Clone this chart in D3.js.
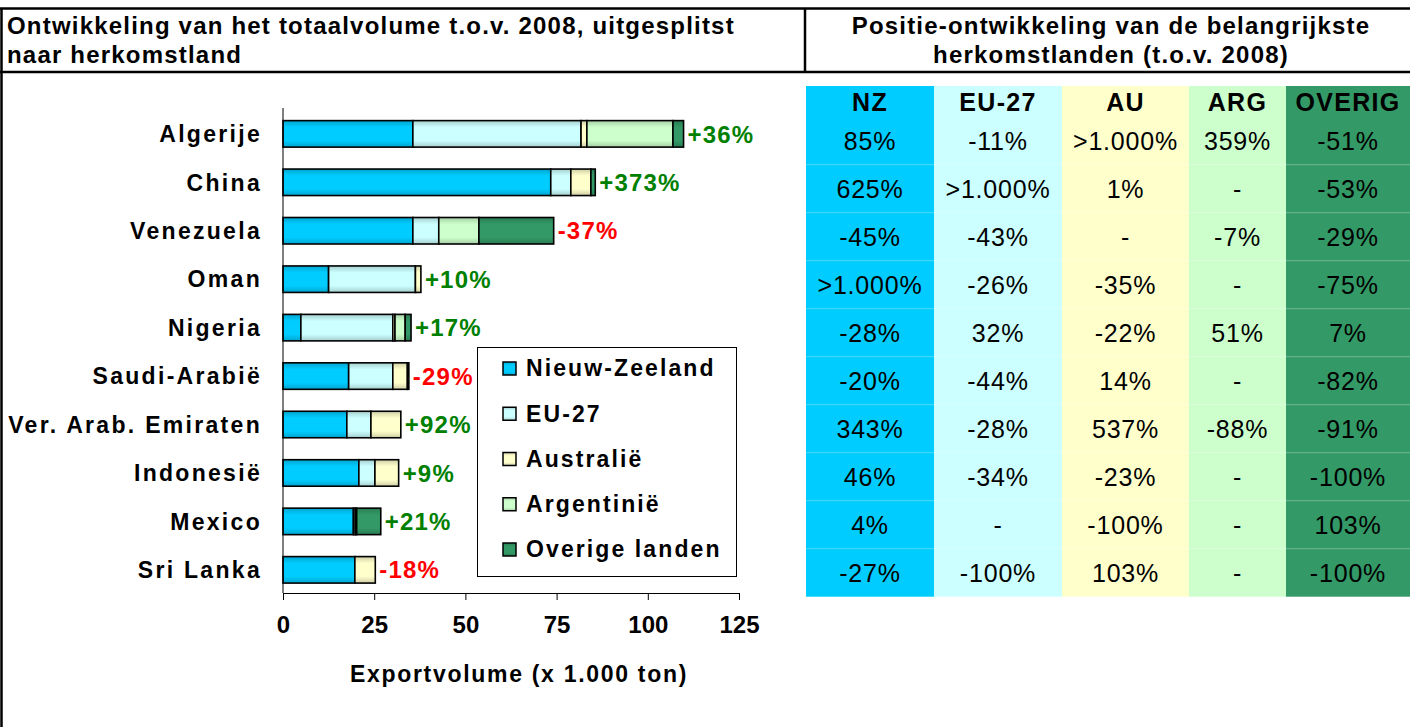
<!DOCTYPE html>
<html>
<head>
<meta charset="utf-8">
<script src="https://cdn.jsdelivr.net/npm/d3@7"></script>
<style>
  body { margin: 0; background: #fff; }
  svg text { font-family: "Liberation Sans", Arial, sans-serif; }
</style>
</head>
<body>
<div id="chart"></div>
<script>
const categories = ["Algerije", "China", "Venezuela", "Oman", "Nigeria", "Saudi-Arabië",
  "Ver. Arab. Emiraten", "Indonesië", "Mexico", "Sri Lanka"];

// exportvolume per herkomstland (x 1.000 ton)
const nieuwZeeland = [35.6, 73.4, 35.6, 12.5, 4.9, 18.0, 17.5, 20.8, 19.3, 19.7];
const eu27 = [46.1, 5.5, 7.1, 23.8, 25.2, 12.1, 6.6, 4.4, 0.5, 0];
const australie = [1.6, 5.5, 0, 1.5, 0.6, 4.0, 8.2, 6.5, 0.4, 5.6];
const argentinie = [23.6, 0, 11.0, 0, 2.8, 0, 0, 0, 0, 0];
const overige = [2.9, 1.2, 20.5, 0, 1.6, 0.4, 0, 0, 6.6, 0];

const totaalLabels = ["+36%", "+373%", "-37%", "+10%", "+17%", "-29%", "+92%", "+9%", "+21%", "-18%"];

const seriesNames = ["Nieuw-Zeeland", "EU-27", "Australië", "Argentinië", "Overige landen"];
const seriesColors = ["#00CCFF", "#CCFFFF", "#FFFFCC", "#CCFFCC", "#339966"];
const xTicks = [0, 25, 50, 75, 100, 125];

const tableHeaders = ["NZ", "EU-27", "AU", "ARG", "OVERIG"];
const tableNZ = ["85%", "625%", "-45%", ">1.000%", "-28%", "-20%", "343%", "46%", "4%", "-27%"];
const tableEU = ["-11%", ">1.000%", "-43%", "-26%", "32%", "-44%", "-28%", "-34%", "-", "-100%"];
const tableAU = [">1.000%", "1%", "-", "-35%", "-22%", "14%", "537%", "-23%", "-100%", "103%"];
const tableARG = ["359%", "-", "-7%", "-", "51%", "-", "-88%", "-", "-", "-"];
const tableOverig = ["-51%", "-53%", "-29%", "-75%", "7%", "-82%", "-91%", "-100%", "103%", "-100%"];

const width = 1410, height = 727;

const svg = d3.select("#chart").append("svg")
  .attr("width", width)
  .attr("height", height);

// gradients for the bar segments
const defs = svg.append("defs");
seriesColors.forEach((c, i) => {
  const g = defs.append("linearGradient")
    .attr("id", "grad" + i)
    .attr("x1", 0).attr("y1", 0).attr("x2", 0).attr("y2", 1);
  const dark = d3.color(c).darker(0.6);
  g.append("stop").attr("offset", "0%").attr("stop-color", dark);
  g.append("stop").attr("offset", "25%").attr("stop-color", c);
  g.append("stop").attr("offset", "75%").attr("stop-color", c);
  g.append("stop").attr("offset", "100%").attr("stop-color", dark);
});

// frame
const frame = svg.append("g").attr("stroke", "#000").attr("stroke-width", 2.5);
frame.append("line").attr("x1", 0).attr("x2", width).attr("y1", 8.5).attr("y2", 8.5);
frame.append("line").attr("x1", 0).attr("x2", width).attr("y1", 72).attr("y2", 72);
frame.append("line").attr("x1", 1.5).attr("x2", 1.5).attr("y1", 8).attr("y2", height);
frame.append("line").attr("x1", 805).attr("x2", 805).attr("y1", 8).attr("y2", 72);

// titles
const titleLeft = svg.append("text")
  .attr("x", 7).attr("y", 34)
  .attr("font-size", 24).attr("font-weight", "bold")
  .attr("letter-spacing", 1.2);
titleLeft.append("tspan").attr("x", 7).text("Ontwikkeling van het totaalvolume t.o.v. 2008, uitgesplitst");
titleLeft.append("tspan").attr("x", 7).attr("dy", 29).text("naar herkomstland");

const titleRight = svg.append("text")
  .attr("x", 1111).attr("y", 34)
  .attr("text-anchor", "middle")
  .attr("font-size", 24).attr("font-weight", "bold")
  .attr("letter-spacing", 1.2);
titleRight.append("tspan").attr("x", 1111).text("Positie-ontwikkeling van de belangrijkste");
titleRight.append("tspan").attr("x", 1111).attr("dy", 29).text("herkomstlanden (t.o.v. 2008)");

// ---- bar chart ----
const x = d3.scaleLinear().domain([0, 125]).range([283, 739]);
const y = d3.scaleBand().domain(categories).range([108, 593])
  .paddingInner(0.453).paddingOuter(0.2325).align(0.56);

const rows = categories.map((c, i) => ({
  land: c,
  s0: nieuwZeeland[i], s1: eu27[i], s2: australie[i], s3: argentinie[i], s4: overige[i]
}));
const stack = d3.stack().keys(["s0", "s1", "s2", "s3", "s4"]);
const stacked = stack(rows);

svg.append("g").selectAll("g")
  .data(stacked)
  .join("g")
  .attr("fill", (d, i) => `url(#grad${i})`)
  .selectAll("rect")
  .data(d => d.filter(p => p[1] > p[0]))
  .join("rect")
  .attr("x", d => x(d[0]))
  .attr("y", d => y(d.data.land))
  .attr("width", d => x(d[1]) - x(d[0]))
  .attr("height", y.bandwidth())
  .attr("stroke", "#000")
  .attr("stroke-width", 1.6);

// y axis line + category labels
svg.append("line")
  .attr("x1", x(0)).attr("x2", x(0)).attr("y1", 108).attr("y2", 593)
  .attr("stroke", "#000").attr("stroke-width", 1);

svg.append("g").selectAll("text")
  .data(categories)
  .join("text")
  .attr("x", 262)
  .attr("y", d => y(d) + y.bandwidth() / 2)
  .attr("dy", "0.36em")
  .attr("text-anchor", "end")
  .attr("font-size", 23)
  .attr("font-weight", "bold")
  .attr("letter-spacing", 2.3)
  .text(d => d);

// total labels
svg.append("g").selectAll("text")
  .data(rows)
  .join("text")
  .attr("x", (d, i) => x(d3.sum([nieuwZeeland[i], eu27[i], australie[i], argentinie[i], overige[i]])) + 4)
  .attr("y", d => y(d.land) + y.bandwidth() / 2)
  .attr("dy", "0.36em")
  .attr("font-size", 24)
  .attr("font-weight", "bold")
  .attr("letter-spacing", 1.2)
  .attr("fill", (d, i) => totaalLabels[i].startsWith("-") ? "#FF0000" : "#008000")
  .text((d, i) => totaalLabels[i]);

// x axis
const xAxis = svg.append("g")
  .attr("transform", "translate(0,593)")
  .call(d3.axisBottom(x).tickValues(xTicks).tickSize(7).tickPadding(16));
xAxis.select(".domain").attr("stroke", "#000");
xAxis.selectAll(".tick line").attr("stroke", "#000");
xAxis.selectAll(".tick text")
  .attr("font-family", "Liberation Sans, Arial, sans-serif")
  .attr("font-size", 24)
  .attr("font-weight", "bold")
  .attr("fill", "#000");

svg.append("text")
  .attr("x", 519).attr("y", 682)
  .attr("text-anchor", "middle")
  .attr("font-size", 23)
  .attr("font-weight", "bold")
  .attr("letter-spacing", 1.7)
  .text("Exportvolume (x 1.000 ton)");

// legend
const legend = svg.append("g");
legend.append("rect")
  .attr("x", 477.5).attr("y", 347.5).attr("width", 259).attr("height", 229)
  .attr("fill", "#fff").attr("stroke", "#000").attr("stroke-width", 1);
const legY = d3.scalePoint().domain(seriesNames).range([368, 549]);
const li = legend.selectAll("g.item")
  .data(seriesNames)
  .join("g")
  .attr("class", "item")
  .attr("transform", d => `translate(503,${legY(d)})`);
li.append("rect")
  .attr("x", 0).attr("y", -6).attr("width", 13).attr("height", 13)
  .attr("fill", (d, i) => `url(#grad${i})`)
  .attr("stroke", "#000").attr("stroke-width", 1.5);
li.append("text")
  .attr("x", 23).attr("y", 0).attr("dy", "0.36em")
  .attr("font-size", 23)
  .attr("font-weight", "bold")
  .attr("letter-spacing", 2.1)
  .text(d => d);

// ---- table ----
const colEdges = [806, 934, 1062, 1189, 1286, 1410];
const tableTop = 86, headerH = 30.7, rowH = 48;
const tableCols = [tableNZ, tableEU, tableAU, tableARG, tableOverig];
const table = svg.append("g");

tableHeaders.forEach((h, j) => {
  const x0 = colEdges[j], x1 = colEdges[j + 1];
  table.append("rect")
    .attr("x", x0).attr("y", tableTop)
    .attr("width", x1 - x0).attr("height", headerH + rowH * categories.length)
    .attr("fill", seriesColors[j]);
  table.append("text")
    .attr("x", (x0 + x1) / 2).attr("y", tableTop + headerH / 2 + 1)
    .attr("dy", "0.36em")
    .attr("text-anchor", "middle")
    .attr("font-size", 25).attr("font-weight", "bold")
    .attr("letter-spacing", 1.3)
    .text(h);
  tableCols[j].forEach((v, i) => {
    table.append("text")
      .attr("x", (x0 + x1) / 2)
      .attr("y", tableTop + headerH + rowH * i + rowH / 2)
      .attr("dy", "0.36em")
      .attr("text-anchor", "middle")
      .attr("font-size", 25)
      .attr("letter-spacing", 0.8)
      .text(v);
  });
});

// faint row separators
d3.range(1, categories.length).forEach(i => {
  table.append("line")
    .attr("x1", colEdges[0]).attr("x2", colEdges[5])
    .attr("y1", tableTop + headerH + rowH * i).attr("y2", tableTop + headerH + rowH * i)
    .attr("stroke", "#fff").attr("stroke-opacity", 0.3);
});
</script>
</body>
</html>
